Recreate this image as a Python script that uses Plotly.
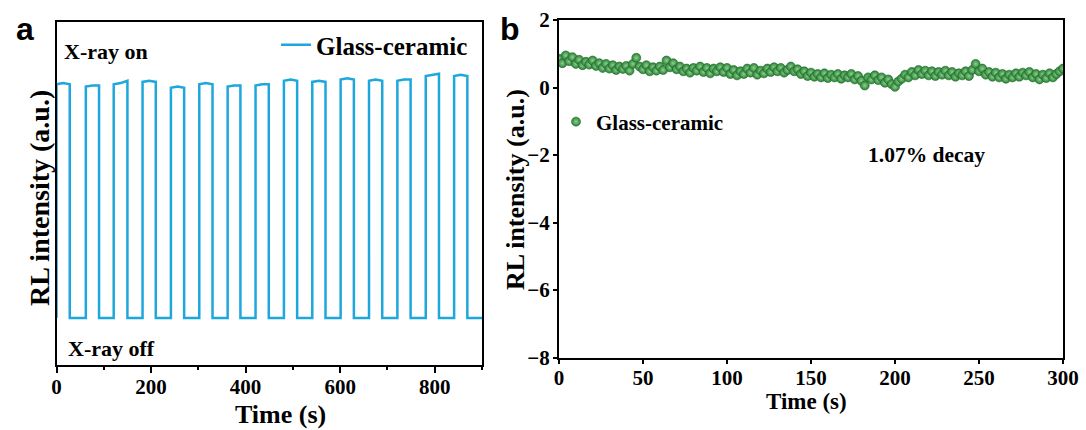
import plotly.graph_objects as go

# ---------------- Panel a data ----------------
on_start = [0, 62, 121, 182, 242, 302, 362, 421, 481, 541, 601, 661, 721, 781, 841]
on_end = [28, 90, 150, 210, 270, 330, 389, 449, 509, 569, 629, 689, 749, 809, 869]
top_start = [0.995, 0.985, 0.995, 1.005, 0.98, 0.995, 0.985, 0.99, 1.01, 1.005, 1.015, 1.01, 1.01, 1.03, 1.03]
top_mid = [1.00, 0.99, 1.00, 1.01, 0.985, 1.00, 0.99, 0.995, 1.015, 1.01, 1.02, 1.015, 1.015, 1.035, 1.035]
top_end = [0.995, 0.99, 1.01, 1.005, 0.98, 0.995, 0.99, 0.995, 1.01, 1.005, 1.015, 1.01, 1.015, 1.04, 1.03]
off_level = 0.0
t_end_a = 900

# ---------------- Panel b data ----------------
time_b = list(range(0, 301, 2))
rl_b = [0.85, 0.72, 0.95, 0.78, 0.90, 0.70, 0.82, 0.66, 0.76, 0.68,
        0.80, 0.64, 0.72, 0.58, 0.70, 0.56, 0.66, 0.52, 0.62, 0.55,
        0.64, 0.50, 0.70, 0.88, 0.62, 0.54, 0.66, 0.48, 0.60, 0.50,
        0.62, 0.52, 0.80, 0.60, 0.72, 0.54, 0.62, 0.48, 0.56, 0.44,
        0.58, 0.50, 0.62, 0.46, 0.58, 0.42, 0.56, 0.48, 0.60, 0.46,
        0.58, 0.40, 0.52, 0.36, 0.48, 0.40, 0.56, 0.44, 0.58, 0.38,
        0.50, 0.42, 0.56, 0.46, 0.60, 0.48, 0.58, 0.44, 0.52, 0.62,
        0.48, 0.54, 0.40, 0.48, 0.34, 0.44, 0.32, 0.40, 0.30, 0.42,
        0.28, 0.38, 0.30, 0.40, 0.26, 0.36, 0.30, 0.40, 0.24, 0.34,
        0.20, 0.06, 0.30, 0.24, 0.36, 0.22, 0.30, 0.14, 0.24, 0.10,
        0.02, 0.18, 0.26, 0.38, 0.30, 0.46, 0.36, 0.52, 0.40, 0.50,
        0.36, 0.48, 0.34, 0.46, 0.38, 0.50, 0.36, 0.46, 0.32, 0.42,
        0.36, 0.48, 0.34, 0.52, 0.70, 0.48, 0.56, 0.38, 0.46, 0.32,
        0.44, 0.30, 0.40, 0.26, 0.38, 0.30, 0.42, 0.32, 0.44, 0.36,
        0.46, 0.30, 0.40, 0.24, 0.38, 0.28, 0.42, 0.30, 0.40, 0.48,
        0.56]

xticks_a = [0, 200, 400, 600, 800]
xticks_b = [0, 50, 100, 150, 200, 250, 300]
yticks_b = [-8, -6, -4, -2, 0, 2]

# build step trace for panel a
xa, ya = [0], [off_level]
for s, e, v1, v2, v3 in zip(on_start, on_end, top_start, top_mid, top_end):
    xa += [s, s, (s + e) / 2, e, e]
    ya += [off_level, v1, v2, v3, off_level]
xa.append(t_end_a)
ya.append(off_level)

W, H = 1086, 430
def px(x):
    return x / W
def py(y):
    return 1 - y / H

SERIF = "Liberation Serif"
SANS = "Liberation Sans"
BLUE = "#1ea7dc"
GREEN = "#2a8236"

fig = go.Figure()
fig.add_trace(go.Scatter(
    x=xa, y=ya, mode="lines", name="Glass-ceramic",
    line=dict(color=BLUE, width=2.5), xaxis="x", yaxis="y", legend="legend",
))
fig.add_trace(go.Scatter(
    x=time_b, y=rl_b, mode="markers", name="Glass-ceramic",
    marker=dict(size=9, color=GREEN, line=dict(width=0.6, color="#1e6a2a"),
                gradient=dict(type="radial", color="#8fcf8f")),
    xaxis="x2", yaxis="y2", legend="legend2",
))

axis_common = dict(
    showline=True, linewidth=2, linecolor="black", mirror=True, automargin=False,
    showgrid=False, zeroline=False, ticks="outside", tickcolor="black",
    tickwidth=2, tickfont=dict(family=SERIF, size=21, color="black", weight="bold"),
)

fig.update_layout(
    width=W, height=H, margin=dict(l=0, r=0, t=0, b=0),
    paper_bgcolor="white", plot_bgcolor="white",
    xaxis=dict(axis_common, domain=[px(56.5), px(482)], anchor="y",
               range=[0, 900], tickvals=xticks_a, ticklen=6, ticklabelstandoff=-4,
               minor=dict(dtick=100, tick0=0, ticks="outside", ticklen=3,
                          tickwidth=2, tickcolor="black")),
    yaxis=dict(axis_common, domain=[py(365), py(22)], anchor="x",
               range=[-0.2, 1.26], ticks="", showticklabels=False),
    xaxis2=dict(axis_common, domain=[px(559), px(1063)], anchor="y2",
                range=[0, 300], tickvals=xticks_b, ticklen=4, ticklabelstandoff=-4),
    yaxis2=dict(axis_common, domain=[py(357.5), py(20)], anchor="x2",
                range=[-8, 2], tickvals=yticks_b, ticklen=4, ticklabelstandoff=-1),
    legend=dict(x=px(276), y=py(45), xanchor="left", yanchor="middle",
                bgcolor="rgba(0,0,0,0)",
                font=dict(family=SERIF, size=25, color="black", weight="bold")),
    legend2=dict(x=px(556), y=py(122), xanchor="left", yanchor="middle",
                 bgcolor="rgba(0,0,0,0)",
                 font=dict(family=SERIF, size=21, color="black", weight="bold")),
    showlegend=True,
)

ann = []
def add_text(text, x, y, size, family=SERIF, xanchor="center", angle=0):
    ann.append(dict(text=text, x=px(x), y=py(y), xref="paper", yref="paper",
                    xanchor=xanchor, yanchor="middle", showarrow=False,
                    textangle=angle,
                    font=dict(family=family, size=size, color="black", weight="bold")))

add_text("a", 25, 29, 32, family=SANS)
add_text("b", 510, 29, 32, family=SANS)
add_text("X-ray on", 62, 52, 22, xanchor="left")
add_text("X-ray off", 66, 348, 22, xanchor="left")
add_text("1.07% decay", 866, 155, 21.5, xanchor="left")
add_text("RL intensity (a.u.)", 39, 198, 28, angle=-90)
add_text("RL intensity (a.u.)", 515, 190, 26, angle=-90)
add_text("Time (s)", 280, 414, 26)
add_text("Time (s)", 806, 401, 23)
fig.update_layout(annotations=ann)

fig.write_html("out.html")
